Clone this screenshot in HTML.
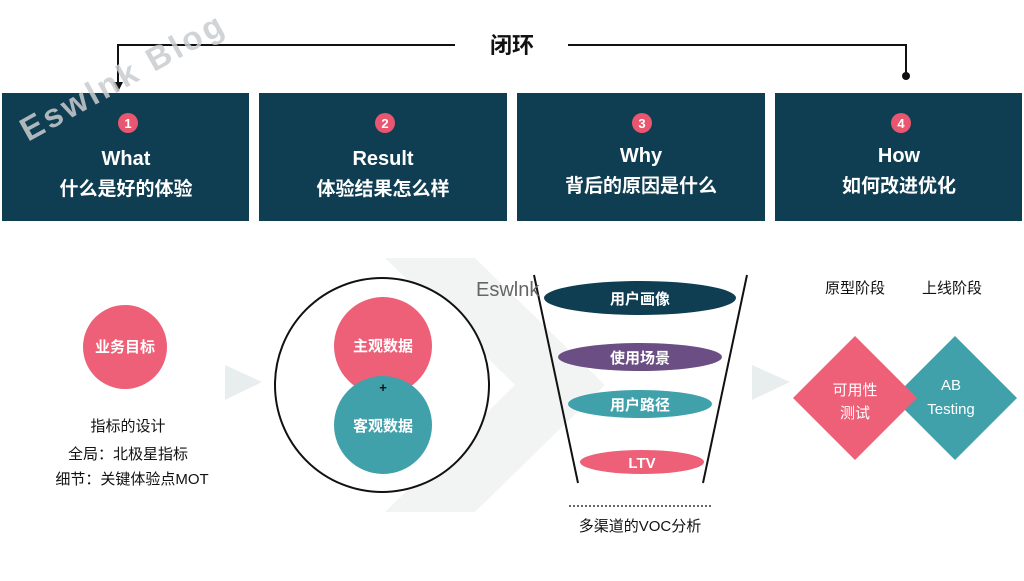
<!DOCTYPE html>
<html><head><meta charset="utf-8"><style>
body{margin:0;width:1024px;height:576px;background:#fff;overflow:hidden;font-family:"Liberation Sans","Noto Sans CJK SC",sans-serif;}
</style></head><body>
<svg width="1024" height="576" viewBox="0 0 1024 576" xmlns="http://www.w3.org/2000/svg" font-family="Liberation Sans, Noto Sans CJK SC, sans-serif">
<!-- faint background chevrons -->
<polygon points="385,258 475,258 605,385 475,512 385,512 515,385" fill="#f2f4f4"/>
<polygon points="225,365 262,382 225,400" fill="#e8eeee"/>
<polygon points="752,365 790,382 752,400" fill="#e8eeee"/>
<!-- loop line -->
<polyline points="455,45 118,45 118,85" fill="none" stroke="#111" stroke-width="2"/>
<polygon points="113,82 123,82 118,92" fill="#111"/>
<polyline points="568,45 906,45 906,75" fill="none" stroke="#111" stroke-width="2"/>
<circle cx="906" cy="76" r="4" fill="#111"/>
<text x="512" y="53" font-size="22" font-weight="bold" text-anchor="middle" fill="#111">闭环</text>
<!-- boxes -->
<g font-weight="bold" fill="#fff" text-anchor="middle">
<rect x="2" y="93" width="247" height="128" fill="#0f3d52"/>
<rect x="259" y="93" width="248" height="128" fill="#0f3d52"/>
<rect x="517" y="93" width="248" height="128" fill="#0f3d52"/>
<rect x="775" y="93" width="247" height="128" fill="#0f3d52"/>
<circle cx="128" cy="123" r="10" fill="#e8566f"/><text x="128" y="128" font-size="13">1</text>
<circle cx="385" cy="123" r="10" fill="#e8566f"/><text x="385" y="128" font-size="13">2</text>
<circle cx="642" cy="123" r="10" fill="#e8566f"/><text x="642" y="128" font-size="13">3</text>
<circle cx="901" cy="123" r="10" fill="#e8566f"/><text x="901" y="128" font-size="13">4</text>
<text x="126" y="165" font-size="20">What</text><text x="126" y="195" font-size="19">什么是好的体验</text>
<text x="383" y="165" font-size="20">Result</text><text x="383" y="195" font-size="19">体验结果怎么样</text>
<text x="641" y="162" font-size="20">Why</text><text x="641" y="192" font-size="19">背后的原因是什么</text>
<text x="899" y="162" font-size="20">How</text><text x="899" y="192" font-size="19">如何改进优化</text>
</g>
<!-- watermark -->
<text x="28" y="142" font-size="33" font-weight="bold" fill="#c9cccf" fill-opacity="0.85" transform="rotate(-29 28 142)" letter-spacing="3">Eswlnk Blog</text>
<!-- col1 -->
<circle cx="125" cy="347" r="42" fill="#ee5f78"/>
<text x="125" y="352" font-size="15" font-weight="bold" fill="#fff" text-anchor="middle">业务目标</text>
<g font-size="15" fill="#111" text-anchor="middle">
<text x="128" y="431">指标的设计</text>
<text x="128" y="459">全局：北极星指标</text>
<text x="132" y="484">细节：关键体验点MOT</text>
</g>
<!-- col2 -->
<circle cx="382" cy="385" r="107" fill="#fff" stroke="#111" stroke-width="2"/>
<circle cx="383" cy="346" r="49" fill="#ee5f78"/>
<circle cx="383" cy="425" r="49" fill="#40a1ab"/>
<text x="383" y="351" font-size="15" font-weight="bold" fill="#fff" text-anchor="middle">主观数据</text>
<text x="383" y="431" font-size="15" font-weight="bold" fill="#fff" text-anchor="middle">客观数据</text>
<text x="383" y="392" font-size="13" font-weight="bold" fill="#111" text-anchor="middle">+</text>
<!-- col3 funnel -->
<line x1="534" y1="275" x2="578" y2="483" stroke="#111" stroke-width="2"/>
<line x1="747" y1="275" x2="703" y2="483" stroke="#111" stroke-width="2"/>
<ellipse cx="640" cy="298" rx="96" ry="17" fill="#0f3d52"/>
<ellipse cx="640" cy="357" rx="82" ry="14" fill="#6a4e84"/>
<ellipse cx="640" cy="404" rx="72" ry="14" fill="#40a1ab"/>
<ellipse cx="642" cy="462" rx="62" ry="12" fill="#ee5f78"/>
<g font-size="15" font-weight="bold" fill="#fff" text-anchor="middle">
<text x="640" y="304">用户画像</text><text x="640" y="363">使用场景</text>
<text x="640" y="410">用户路径</text><text x="642" y="468">LTV</text>
</g>
<text x="476" y="296" font-size="20" fill="#666">Eswlnk</text>
<line x1="569" y1="506" x2="711" y2="506" stroke="#333" stroke-width="1.5" stroke-dasharray="2,2"/>
<text x="640" y="531" font-size="15" fill="#111" text-anchor="middle">多渠道的VOC分析</text>
<!-- col4 -->
<text x="855" y="293" font-size="15" fill="#111" text-anchor="middle">原型阶段</text>
<text x="952" y="293" font-size="15" fill="#111" text-anchor="middle">上线阶段</text>
<polygon points="955,336 1017,398 955,460 893,398" fill="#40a1ab"/>
<polygon points="855,336 917,398 855,460 793,398" fill="#ee5f78"/>
<text x="855" y="395" font-size="15" fill="#fff" text-anchor="middle">可用性</text>
<text x="855" y="418" font-size="15" fill="#fff" text-anchor="middle">测试</text>
<text x="951" y="390" font-size="15" fill="#fff" text-anchor="middle">AB</text>
<text x="951" y="414" font-size="15" fill="#fff" text-anchor="middle">Testing</text>
</svg>
</body></html>
